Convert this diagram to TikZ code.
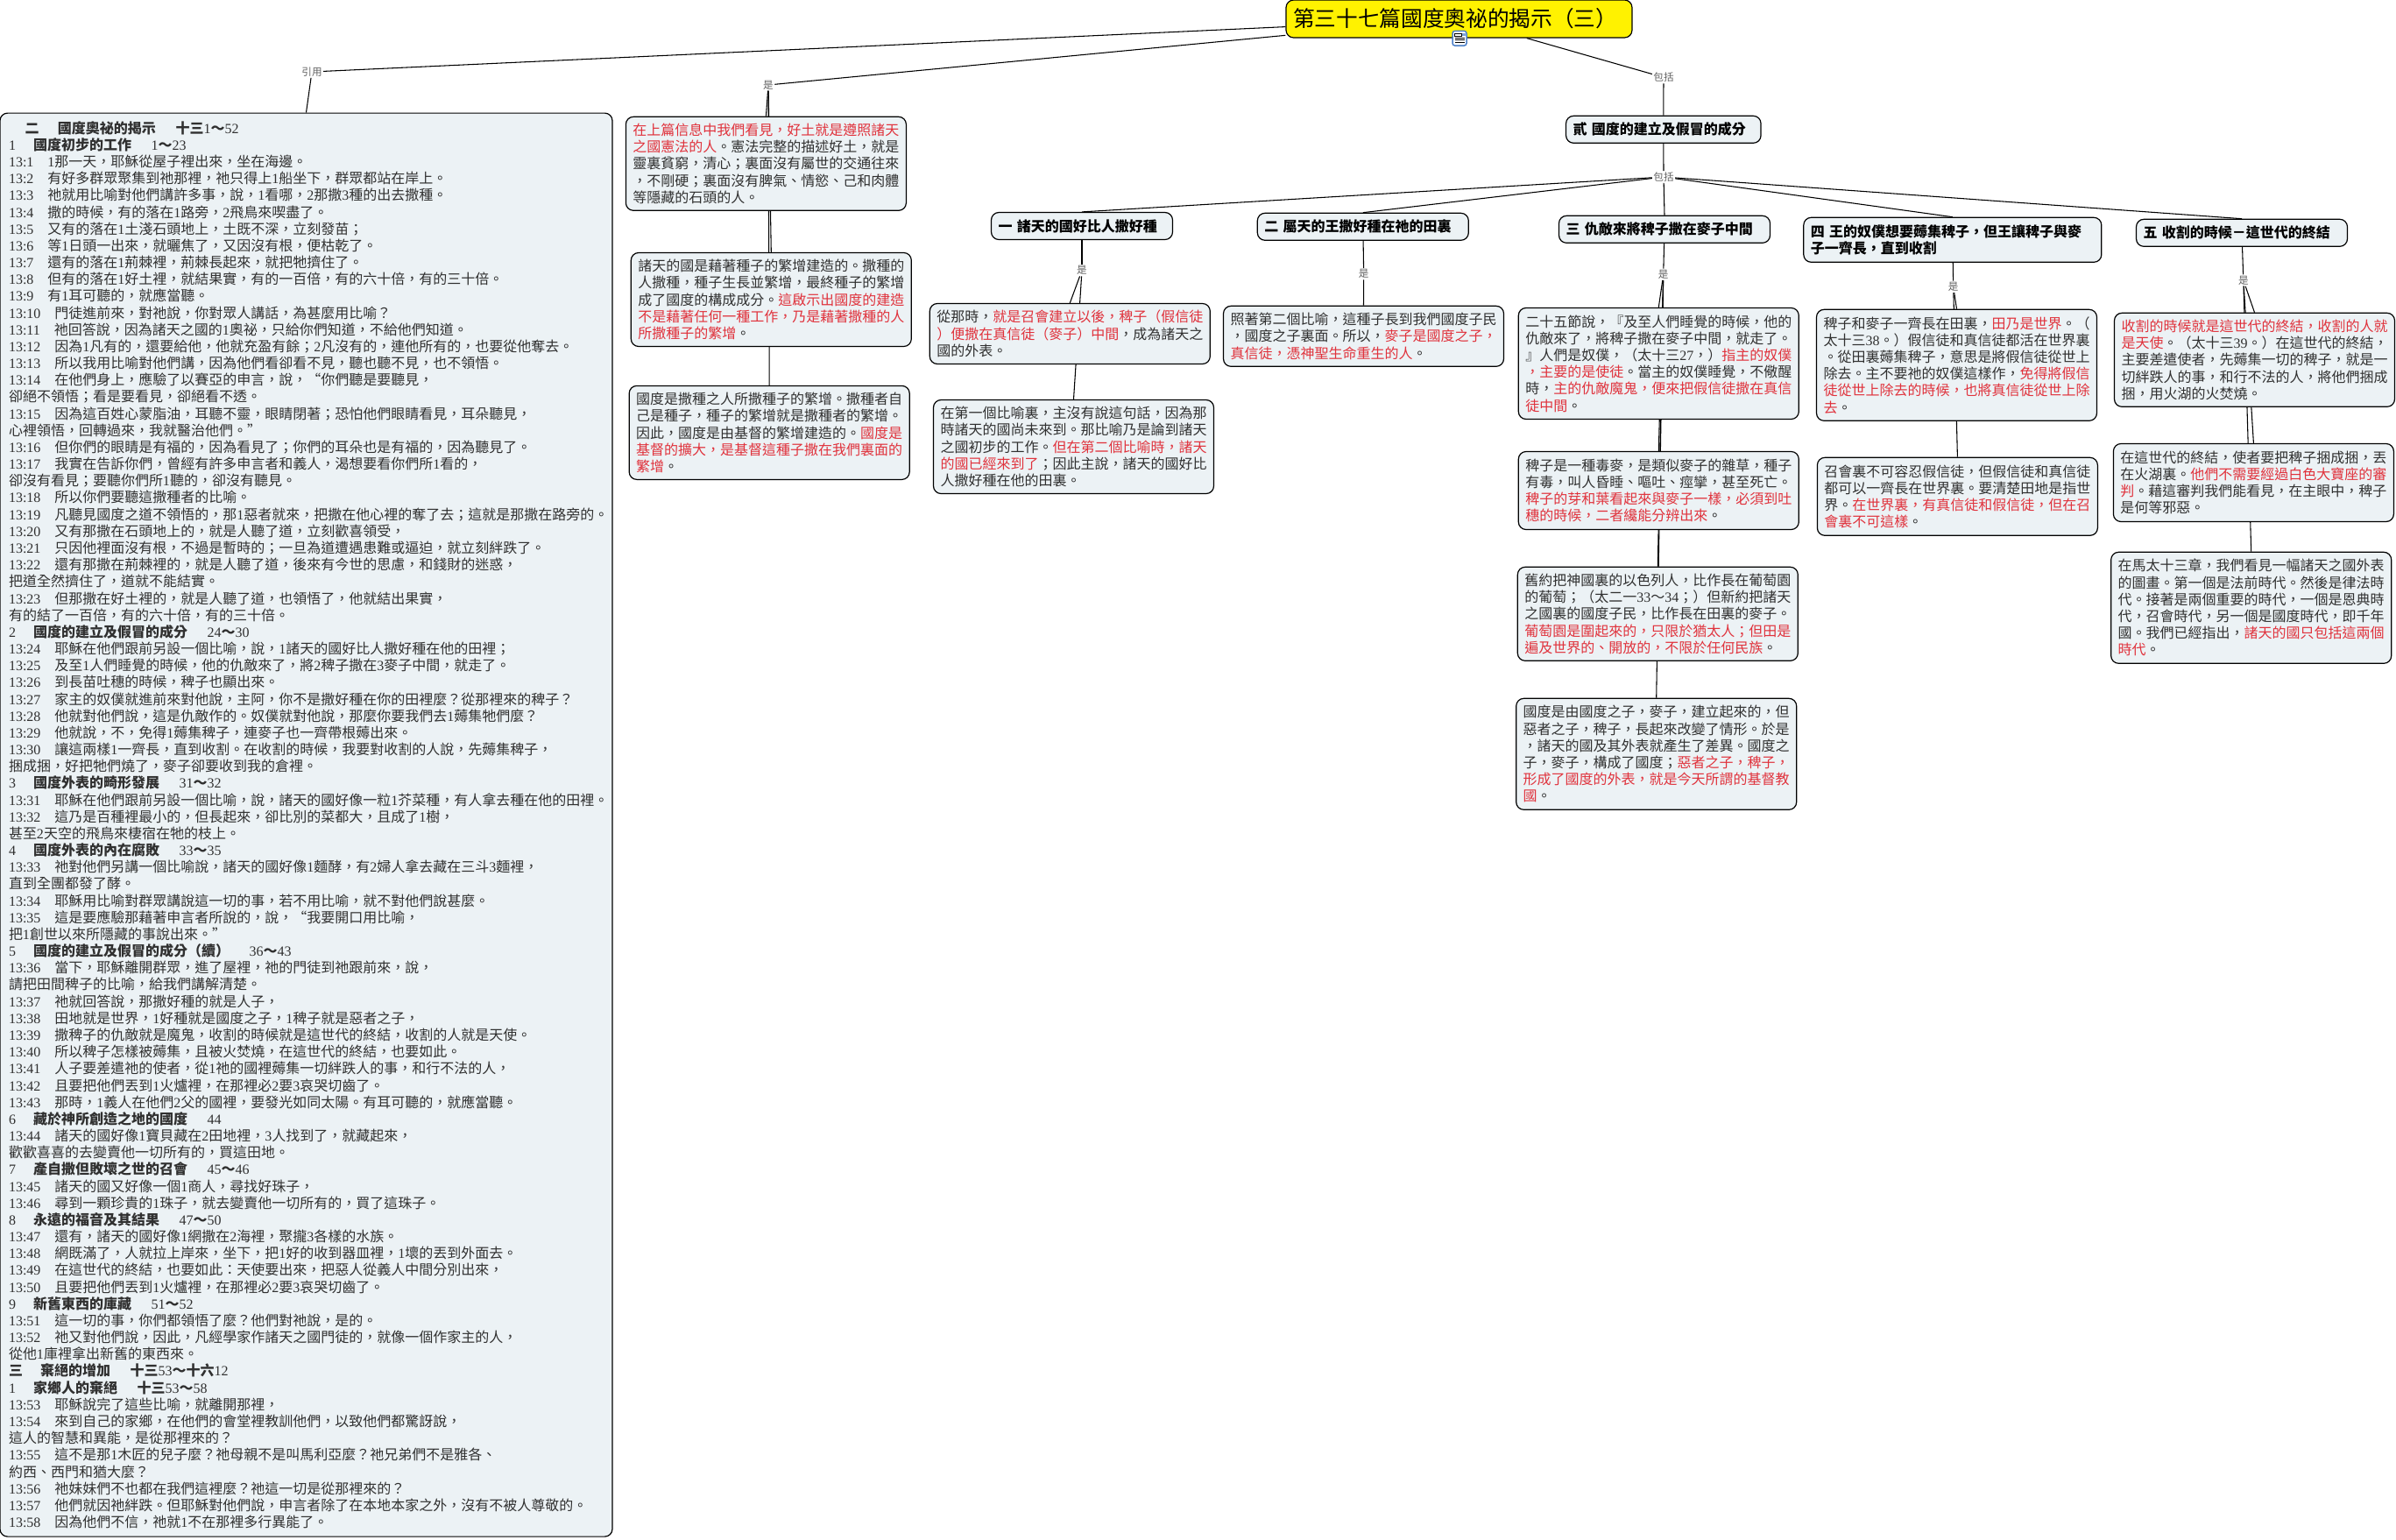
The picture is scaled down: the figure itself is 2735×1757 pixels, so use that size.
\documentclass[tikz,border=0pt]{standalone}
\usepackage{fontspec}
\setmainfont{Noto Sans CJK TC}
\newfontfamily\latf{Liberation Serif}[Scale=1.0]
\usetikzlibrary{backgrounds}
\definecolor{boxfill}{HTML}{ECF2F5}
\definecolor{bodyk}{HTML}{303030}
\definecolor{redt}{HTML}{E0323C}
\definecolor{iconb}{HTML}{4A7EC7}
% digits and colons set in a Latin serif
\chardef\digcls=200
\XeTeXinterchartokenstate=1
\XeTeXcharclass`0=\digcls \XeTeXcharclass`1=\digcls \XeTeXcharclass`2=\digcls
\XeTeXcharclass`3=\digcls \XeTeXcharclass`4=\digcls \XeTeXcharclass`5=\digcls
\XeTeXcharclass`6=\digcls \XeTeXcharclass`7=\digcls \XeTeXcharclass`8=\digcls
\XeTeXcharclass`9=\digcls \XeTeXcharclass`:=\digcls
\newcommand\setdig[1]{\XeTeXinterchartoks #1 \digcls={\begingroup\latf\mdseries}\XeTeXinterchartoks \digcls #1 ={\endgroup}}
\setdig{0}\setdig{1}\setdig{2}\setdig{3}\setdig{4095}
\newcommand\rdt[1]{\textcolor{redt}{#1}}
\newcommand\vs[1]{#1\hspace*{12pt}}
\newcommand\hdg[4]{{\bfseries\makebox[#1][l]{#2}#3\hspace*{17pt}#4}}
\tikzset{
  boxsz/.code 2 args={\pgfmathsetlengthmacro\cbw{#1*0.75pt-12pt}\tikzset{text width=\cbw,minimum height=#2*0.75pt}},
  cbox/.style={draw=black,line width=0.9pt,fill=boxfill,rounded corners=6.5pt,align=left,
    inner xsep=6pt,inner ysep=0pt,text=bodyk,
    font={\fontsize{12}{14.4}\selectfont\spaceskip=4.5pt\lineskiplimit=-100pt}},
  hbox/.style={cbox,text=black,font={\fontsize{12}{14.4}\selectfont\bfseries\spaceskip=4.5pt\lineskiplimit=-100pt}},
  lbox/.style={cbox,inner xsep=7.5pt,text width=509.25pt,minimum height=1218.75pt,
    font={\fontsize{12}{14.38}\selectfont\lineskiplimit=-100pt}},
  tbox/.style={draw=black,line width=0.9pt,fill=yellow,rounded corners=6.5pt,align=left,
    inner xsep=6pt,inner ysep=0pt,text=black,boxsz={395}{43},
    font={\fontsize{18.5}{22}\selectfont}},
  lab/.style={inner sep=1pt,text=black!62,font={\fontsize{8.7}{10}\selectfont}},
  conn/.style={draw=black,line width=0.8pt},
  iconbox/.style={draw=iconb,line width=1.1pt,fill=white,rounded corners=2pt,
    minimum width=12pt,minimum height=12.5pt,inner sep=0pt},
}
\begin{document}
\begin{tikzpicture}[x=0.75pt,y=-0.75pt]
\useasboundingbox (0,0) rectangle (2735,1757);

% title
\node[tbox] (title) at (1665.5,21.5) {第三十七篇國度奧祕的揭示（三）};
\node[iconbox] (icon) at (1666,43.7) {};
\fill[iconb!70] (1669,37.5) rectangle (1672.5,41);
\draw[black,line width=0.7pt] (1660.5,38) rectangle (1668,41.5);
\foreach \yy in {43,45.5,48}{\draw[black,line width=0.7pt] (1660.5,\yy) -- (1671.5,\yy);}

% left column
\node[lbox] (L) at (349.5,941.6) {%
\hspace*{14pt}\hdg{28pt}{二}{國度奧祕的揭示}{十三1～52}\\
\hdg{21pt}{1}{國度初步的工作}{1～23}\\
\vs{13:1}1那一天，耶穌從屋子裡出來，坐在海邊。\\
\vs{13:2}有好多群眾聚集到祂那裡，祂只得上1船坐下，群眾都站在岸上。\\
\vs{13:3}祂就用比喻對他們講許多事，說，1看哪，2那撒3種的出去撒種。\\
\vs{13:4}撒的時候，有的落在1路旁，2飛鳥來喫盡了。\\
\vs{13:5}又有的落在1土淺石頭地上，土既不深，立刻發苗；\\
\vs{13:6}等1日頭一出來，就曬焦了，又因沒有根，便枯乾了。\\
\vs{13:7}還有的落在1荊棘裡，荊棘長起來，就把牠擠住了。\\
\vs{13:8}但有的落在1好土裡，就結果實，有的一百倍，有的六十倍，有的三十倍。\\
\vs{13:9}有1耳可聽的，就應當聽。\\
\vs{13:10}門徒進前來，對祂說，你對眾人講話，為甚麼用比喻？\\
\vs{13:11}祂回答說，因為諸天之國的1奧祕，只給你們知道，不給他們知道。\\
\vs{13:12}因為1凡有的，還要給他，他就充盈有餘；2凡沒有的，連他所有的，也要從他奪去。\\
\vs{13:13}所以我用比喻對他們講，因為他們看卻看不見，聽也聽不見，也不領悟。\\
\vs{13:14}在他們身上，應驗了以賽亞的申言，說，“你們聽是要聽見，\\
卻絕不領悟；看是要看見，卻絕看不透。\\
\vs{13:15}因為這百姓心蒙脂油，耳聽不靈，眼睛閉著；恐怕他們眼睛看見，耳朵聽見，\\
心裡領悟，回轉過來，我就醫治他們。”\\
\vs{13:16}但你們的眼睛是有福的，因為看見了；你們的耳朵也是有福的，因為聽見了。\\
\vs{13:17}我實在告訴你們，曾經有許多申言者和義人，渴想要看你們所1看的，\\
卻沒有看見；要聽你們所1聽的，卻沒有聽見。\\
\vs{13:18}所以你們要聽這撒種者的比喻。\\
\vs{13:19}凡聽見國度之道不領悟的，那1惡者就來，把撒在他心裡的奪了去；這就是那撒在路旁的。\\
\vs{13:20}又有那撒在石頭地上的，就是人聽了道，立刻歡喜領受，\\
\vs{13:21}只因他裡面沒有根，不過是暫時的；一旦為道遭遇患難或逼迫，就立刻絆跌了。\\
\vs{13:22}還有那撒在荊棘裡的，就是人聽了道，後來有今世的思慮，和錢財的迷惑，\\
把道全然擠住了，道就不能結實。\\
\vs{13:23}但那撒在好土裡的，就是人聽了道，也領悟了，他就結出果實，\\
有的結了一百倍，有的六十倍，有的三十倍。\\
\hdg{21pt}{2}{國度的建立及假冒的成分}{24～30}\\
\vs{13:24}耶穌在他們跟前另設一個比喻，說，1諸天的國好比人撒好種在他的田裡；\\
\vs{13:25}及至1人們睡覺的時候，他的仇敵來了，將2稗子撒在3麥子中間，就走了。\\
\vs{13:26}到長苗吐穗的時候，稗子也顯出來。\\
\vs{13:27}家主的奴僕就進前來對他說，主阿，你不是撒好種在你的田裡麼？從那裡來的稗子？\\
\vs{13:28}他就對他們說，這是仇敵作的。奴僕就對他說，那麼你要我們去1薅集牠們麼？\\
\vs{13:29}他就說，不，免得1薅集稗子，連麥子也一齊帶根薅出來。\\
\vs{13:30}讓這兩樣1一齊長，直到收割。在收割的時候，我要對收割的人說，先薅集稗子，\\
捆成捆，好把牠們燒了，麥子卻要收到我的倉裡。\\
\hdg{21pt}{3}{國度外表的畸形發展}{31～32}\\
\vs{13:31}耶穌在他們跟前另設一個比喻，說，諸天的國好像一粒1芥菜種，有人拿去種在他的田裡。\\
\vs{13:32}這乃是百種裡最小的，但長起來，卻比別的菜都大，且成了1樹，\\
甚至2天空的飛鳥來棲宿在牠的枝上。\\
\hdg{21pt}{4}{國度外表的內在腐敗}{33～35}\\
\vs{13:33}祂對他們另講一個比喻說，諸天的國好像1麵酵，有2婦人拿去藏在三斗3麵裡，\\
直到全團都發了酵。\\
\vs{13:34}耶穌用比喻對群眾講說這一切的事，若不用比喻，就不對他們說甚麼。\\
\vs{13:35}這是要應驗那藉著申言者所說的，說，“我要開口用比喻，\\
把1創世以來所隱藏的事說出來。”\\
\hdg{21pt}{5}{國度的建立及假冒的成分（續）}{36～43}\\
\vs{13:36}當下，耶穌離開群眾，進了屋裡，祂的門徒到祂跟前來，說，\\
請把田間稗子的比喻，給我們講解清楚。\\
\vs{13:37}祂就回答說，那撒好種的就是人子，\\
\vs{13:38}田地就是世界，1好種就是國度之子，1稗子就是惡者之子，\\
\vs{13:39}撒稗子的仇敵就是魔鬼，收割的時候就是這世代的終結，收割的人就是天使。\\
\vs{13:40}所以稗子怎樣被薅集，且被火焚燒，在這世代的終結，也要如此。\\
\vs{13:41}人子要差遣祂的使者，從1祂的國裡薅集一切絆跌人的事，和行不法的人，\\
\vs{13:42}且要把他們丟到1火爐裡，在那裡必2要3哀哭切齒了。\\
\vs{13:43}那時，1義人在他們2父的國裡，要發光如同太陽。有耳可聽的，就應當聽。\\
\hdg{21pt}{6}{藏於神所創造之地的國度}{44}\\
\vs{13:44}諸天的國好像1寶貝藏在2田地裡，3人找到了，就藏起來，\\
歡歡喜喜的去變賣他一切所有的，買這田地。\\
\hdg{21pt}{7}{產自撒但敗壞之世的召會}{45～46}\\
\vs{13:45}諸天的國又好像一個1商人，尋找好珠子，\\
\vs{13:46}尋到一顆珍貴的1珠子，就去變賣他一切所有的，買了這珠子。\\
\hdg{21pt}{8}{永遠的福音及其結果}{47～50}\\
\vs{13:47}還有，諸天的國好像1網撒在2海裡，聚攏3各樣的水族。\\
\vs{13:48}網既滿了，人就拉上岸來，坐下，把1好的收到器皿裡，1壞的丟到外面去。\\
\vs{13:49}在這世代的終結，也要如此：天使要出來，把惡人從義人中間分別出來，\\
\vs{13:50}且要把他們丟到1火爐裡，在那裡必2要3哀哭切齒了。\\
\hdg{21pt}{9}{新舊東西的庫藏}{51～52}\\
\vs{13:51}這一切的事，你們都領悟了麼？他們對祂說，是的。\\
\vs{13:52}祂又對他們說，因此，凡經學家作諸天之國門徒的，就像一個作家主的人，\\
從他1庫裡拿出新舊的東西來。\\
\hdg{27pt}{三}{棄絕的增加}{十三53～十六12}\\
\hdg{21pt}{1}{家鄉人的棄絕}{十三53～58}\\
\vs{13:53}耶穌說完了這些比喻，就離開那裡，\\
\vs{13:54}來到自己的家鄉，在他們的會堂裡教訓他們，以致他們都驚訝說，\\
這人的智慧和異能，是從那裡來的？\\
\vs{13:55}這不是那1木匠的兒子麼？祂母親不是叫馬利亞麼？祂兄弟們不是雅各、\\
約西、西門和猶大麼？\\
\vs{13:56}祂妹妹們不也都在我們這裡麼？祂這一切是從那裡來的？\\
\vs{13:57}他們就因祂絆跌。但耶穌對他們說，申言者除了在本地本家之外，沒有不被人尊敬的。\\
\vs{13:58}因為他們不信，祂就1不在那裡多行異能了。};

% labels
\node[lab] (yin) at (356,82) {引用};
\node[lab] (shiA) at (877,97) {是};
\node[lab] (bk1) at (1899,88.3) {包括};
\node[lab] (bk2) at (1899,202) {包括};
\node[lab] (shiB) at (1235,308.7) {是};
\node[lab] (shiC) at (1556.7,312.7) {是};
\node[lab] (shiD) at (1898.7,313.3) {是};
\node[lab] (shiE) at (2229.7,327.3) {是};
\node[lab] (shiF) at (2560.8,320) {是};

% column A
\node[cbox,boxsz={320}{107}] (A1) at (874.4,186.8) {\rdt{在上篇信息中我們看見，好土就是遵照諸天}\\
\rdt{之國憲法的人}。憲法完整的描述好土，就是\\
靈裏貧窮，清心；裏面沒有屬世的交通往來\\
，不剛硬；裏面沒有脾氣、情慾、己和肉體\\
等隱藏的石頭的人。};
\node[cbox,boxsz={320}{107}] (A2) at (880.3,342) {諸天的國是藉著種子的繁增建造的。撒種的\\
人撒種，種子生長並繁增，最終種子的繁增\\
成了國度的構成成分。\rdt{這啟示出國度的建造}\\
\rdt{不是藉著任何一種工作，乃是藉著撒種的人}\\
\rdt{所撒種子的繁增}。};
\node[cbox,boxsz={320}{107}] (A3) at (878.2,493.9) {國度是撒種之人所撒種子的繁增。撒種者自\\
己是種子，種子的繁增就是撒種者的繁增。\\
因此，國度是由基督的繁增建造的。\rdt{國度是}\\
\rdt{基督的擴大，是基督這種子撒在我們裏面的}\\
\rdt{繁增}。};

% column B
\node[hbox,boxsz={207}{31}] (B0) at (1235,258) {一 諸天的國好比人撒好種};
\node[cbox,boxsz={320}{69}] (B1) at (1221.3,381) {從那時，\rdt{就是召會建立以後，稗子（假信徒}\\
\rdt{）便撒在真信徒（麥子）中間}，成為諸天之\\
國的外表。};
\node[cbox,boxsz={320}{107}] (B2) at (1225.5,510) {在第一個比喻裏，主沒有說這句話，因為那\\
時諸天的國尚未來到。那比喻乃是論到諸天\\
之國初步的工作。\rdt{但在第二個比喻時，諸天}\\
\rdt{的國已經來到了}；因此主說，諸天的國好比\\
人撒好種在他的田裏。};

% column C
\node[hbox,boxsz={241}{31}] (C0) at (1555.8,258.8) {二 屬天的王撒好種在祂的田裏};
\node[cbox,boxsz={320}{69}] (C1) at (1556.5,383.8) {照著第二個比喻，這種子長到我們國度子民\\
，國度之子裏面。所以，\rdt{麥子是國度之子，}\\
\rdt{真信徒，憑神聖生命重生的人}。};

% middle heading
\node[hbox,boxsz={222.5}{31}] (M) at (1898.8,147.8) {貳 國度的建立及假冒的成分};

% column D
\node[hbox,boxsz={241}{31}] (D0) at (1900,261.8) {三 仇敵來將稗子撒在麥子中間};
\node[cbox,boxsz={320}{127}] (D1) at (1893.3,415) {二十五節說，『及至人們睡覺的時候，他的\\
仇敵來了，將稗子撒在麥子中間，就走了。\\
』人們是奴僕，（太十三27，）\rdt{指主的奴僕}\\
\rdt{，主要的是使徒}。當主的奴僕睡覺，不儆醒\\
時，\rdt{主的仇敵魔鬼，便來把假信徒撒在真信}\\
\rdt{徒中間}。};
\node[cbox,boxsz={320}{89}] (D2) at (1893.3,560) {稗子是一種毒麥，是類似麥子的雜草，種子\\
有毒，叫人昏睡、嘔吐、痙攣，甚至死亡。\\
\rdt{稗子的芽和葉看起來與麥子一樣，必須到吐}\\
\rdt{穗的時候，二者纔能分辨出來}。};
\node[cbox,boxsz={320}{107}] (D3) at (1892.3,700.8) {舊約把神國裏的以色列人，比作長在葡萄園\\
的葡萄；（太二一33～34；）但新約把諸天\\
之國裏的國度子民，比作長在田裏的麥子。\\
\rdt{葡萄園是圍起來的，只限於猶太人；但田是}\\
\rdt{遍及世界的、開放的，不限於任何民族}。};
\node[cbox,boxsz={320}{127}] (D4) at (1890.7,860.8) {國度是由國度之子，麥子，建立起來的，但\\
惡者之子，稗子，長起來改變了情形。於是\\
，諸天的國及其外表就產生了差異。國度之\\
子，麥子，構成了國度；\rdt{惡者之子，稗子，}\\
\rdt{形成了國度的外表，就是今天所謂的基督教}\\
\rdt{國}。};

% column E
\node[hbox,boxsz={340}{51}] (E0) at (2228.8,273.8) {四 王的奴僕想要薅集稗子，但王讓稗子與麥\\
子一齊長，直到收割};
\node[cbox,boxsz={320}{127}] (E1) at (2233.5,416.8) {稗子和麥子一齊長在田裏，\rdt{田乃是世界}。（\\
太十三38。）假信徒和真信徒都活在世界裏\\
。從田裏薅集稗子，意思是將假信徒從世上\\
除去。主不要祂的奴僕這樣作，\rdt{免得將假信}\\
\rdt{徒從世上除去的時候，也將真信徒從世上除}\\
\rdt{去}。};
\node[cbox,boxsz={320}{89}] (E2) at (2234.4,566.8) {召會裏不可容忍假信徒，但假信徒和真信徒\\
都可以一齊長在世界裏。要清楚田地是指世\\
界。\rdt{在世界裏，有真信徒和假信徒，但在召}\\
\rdt{會裏不可這樣}。};

% column F
\node[hbox,boxsz={241}{31}] (F0) at (2559,265.8) {五 收割的時候－這世代的終結};
\node[cbox,boxsz={320}{107}] (F1) at (2573.5,410.8) {\rdt{收割的時候就是這世代的終結，收割的人就}\\
\rdt{是天使}。（太十三39。）在這世代的終結，\\
主要差遣使者，先薅集一切的稗子，就是一\\
切絆跌人的事，和行不法的人，將他們捆成\\
捆，用火湖的火焚燒。};
\node[cbox,boxsz={320}{89}] (F2) at (2572.4,551) {在這世代的終結，使者要把稗子捆成捆，丟\\
在火湖裏。\rdt{他們不需要經過白色大寶座的審}\\
\rdt{判}。藉這審判我們能看見，在主眼中，稗子\\
是何等邪惡。};
\node[cbox,boxsz={320}{127}] (F3) at (2569.7,693.8) {在馬太十三章，我們看見一幅諸天之國外表\\
的圖畫。第一個是法前時代。然後是律法時\\
代。接著是兩個重要的時代，一個是恩典時\\
代，召會時代，另一個是國度時代，即千年\\
國。我們已經指出，\rdt{諸天的國只包括這兩個}\\
\rdt{時代}。};

% connectors, behind the boxes
\begin{scope}[on background layer]
\draw[conn] (title) -- (yin);
\draw[conn] (yin) -- (L.north);
\draw[conn] (title) -- (shiA);
\draw[conn] (shiA) -- (A1.north);
\draw[conn] (shiA) -- (A2.north);
\draw[conn] (shiA) -- (A3.north);
\draw[conn] (title) -- (bk1);
\draw[conn] (bk1) -- (M.north);
\draw[conn] (M) -- (bk2);
\draw[conn] (bk2) -- (B0.north);
\draw[conn] (bk2) -- (C0.north);
\draw[conn] (bk2) -- (D0.north);
\draw[conn] (bk2) -- (E0.north);
\draw[conn] (bk2) -- (F0.north);
\draw[conn] (B0) -- (shiB);
\draw[conn] (shiB) -- (B1.north);
\draw[conn] (shiB) -- (B2.north);
\draw[conn] (C0) -- (shiC);
\draw[conn] (shiC) -- (C1.north);
\draw[conn] (D0) -- (shiD);
\draw[conn] (shiD) -- (D1.north);
\draw[conn] (shiD) -- (D2.north);
\draw[conn] (shiD) -- (D3.north);
\draw[conn] (shiD) -- (D4.north);
\draw[conn] (E0) -- (shiE);
\draw[conn] (shiE) -- (E1.north);
\draw[conn] (shiE) -- (E2.north);
\draw[conn] (F0) -- (shiF);
\draw[conn] (shiF) -- (F1.north);
\draw[conn] (shiF) -- (F2.north);
\draw[conn] (shiF) -- (F3.north);
\end{scope}
\end{tikzpicture}
\end{document}
